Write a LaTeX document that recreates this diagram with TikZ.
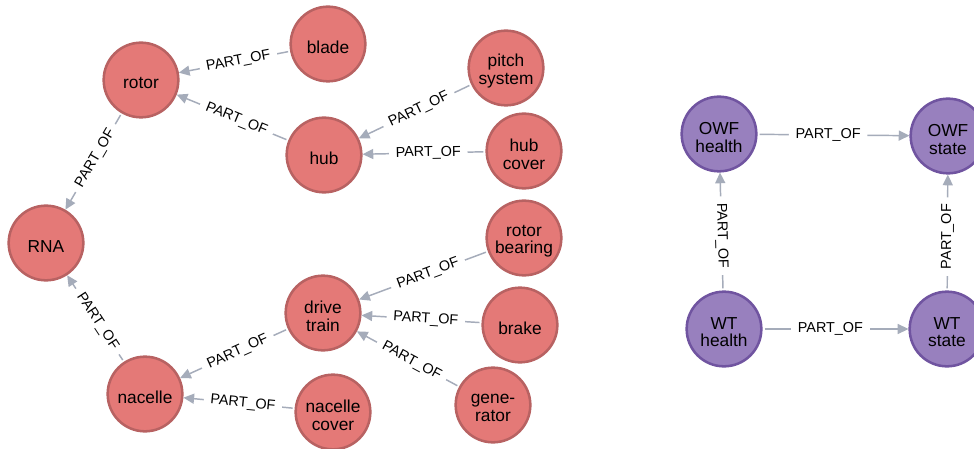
\documentclass[tikz,border=0pt]{standalone}
\usepackage{fontspec}
\setmainfont{Liberation Sans}
\usetikzlibrary{arrows.meta}
\definecolor{redfill}{RGB}{228,121,119}
\definecolor{redline}{RGB}{184,98,98}
\definecolor{purfill}{RGB}{152,128,190}
\definecolor{purline}{RGB}{112,84,160}
\definecolor{edgecol}{RGB}{165,172,186}
\tikzset{
  ent/.style={circle, minimum size=56pt, inner sep=0pt, line width=1.9pt},
  rednode/.style={ent, fill=redfill, draw=redline},
  purnode/.style={ent, fill=purfill, draw=purline},
  nt/.style={align=center, inner sep=0pt, yshift=-2.4pt,
    font=\fontsize{13}{13.3}\selectfont, text=black},
  rel/.style={draw=edgecol, line width=1.1pt, shorten <=1.5pt,
    -{Triangle[length=8pt,width=7.5pt]}},
  rellab/.style={pos=0.465, sloped, fill=white, inner xsep=5pt, inner ysep=1pt,
    font=\fontsize{10.8}{12}\selectfont, text=black}
}
\begin{document}
\begin{tikzpicture}[x=0.75pt,y=-0.75pt]
\useasboundingbox[fill=white] (0,0) rectangle (974,449);
% red nodes
\node[rednode, label={[nt]center:blade}] (blade) at (328,44) {};
\node[rednode, label={[nt]center:rotor}] (rotor) at (141,80) {};
\node[rednode, label={[nt]center:hub}] (hub) at (324,155) {};
\node[rednode, label={[nt]center:RNA}] (rna) at (46,243) {};
\node[rednode, label={[nt]center:{pitch\\system}}] (pitch) at (506,68) {};
\node[rednode, label={[nt]center:{hub\\cover}}] (hubcover) at (524,151) {};
\node[rednode, label={[nt]center:{rotor\\bearing}}] (bearing) at (524,238) {};
\node[rednode, label={[nt]center:brake}] (brake) at (520,325) {};
\node[rednode, label={[nt]center:{gene-\\rator}}] (gen) at (493,405) {};
\node[rednode, label={[nt]center:{drive\\train}}] (drive) at (323,313) {};
\node[rednode, label={[nt]center:nacelle}] (nacelle) at (145,394) {};
\node[rednode, label={[nt]center:{nacelle\\cover}}] (ncover) at (333,412) {};
% purple nodes
\node[purnode, label={[nt]center:{OWF\\health}}] (owfh) at (719,134) {};
\node[purnode, label={[nt]center:{OWF\\state}}] (owfs) at (948,136) {};
\node[purnode, label={[nt]center:{WT\\health}}] (wth) at (724,329) {};
\node[purnode, label={[nt]center:{WT\\state}}] (wts) at (947,329) {};
% edges
\draw[rel] (blade) -- node[rellab] {PART\_OF} (rotor);
\draw[rel] (hub) -- node[rellab] {PART\_OF} (rotor);
\draw[rel] (rotor) -- node[rellab] {PART\_OF} (rna);
\draw[rel] (pitch) -- node[rellab] {PART\_OF} (hub);
\draw[rel] (hubcover) -- node[rellab] {PART\_OF} (hub);
\draw[rel] (nacelle) -- node[rellab] {PART\_OF} (rna);
\draw[rel] (drive) -- node[rellab] {PART\_OF} (nacelle);
\draw[rel] (ncover) -- node[rellab] {PART\_OF} (nacelle);
\draw[rel] (bearing) -- node[rellab] {PART\_OF} (drive);
\draw[rel] (brake) -- node[rellab] {PART\_OF} (drive);
\draw[rel] (gen) -- node[rellab] {PART\_OF} (drive);
\draw[rel] (owfh) -- node[rellab] {PART\_OF} (owfs);
\draw[rel] (wth) -- node[rellab] {PART\_OF} (owfh);
\draw[rel] (wts) -- node[rellab] {PART\_OF} (owfs);
\draw[rel] (wth) -- node[rellab] {PART\_OF} (wts);
\end{tikzpicture}
\end{document}
